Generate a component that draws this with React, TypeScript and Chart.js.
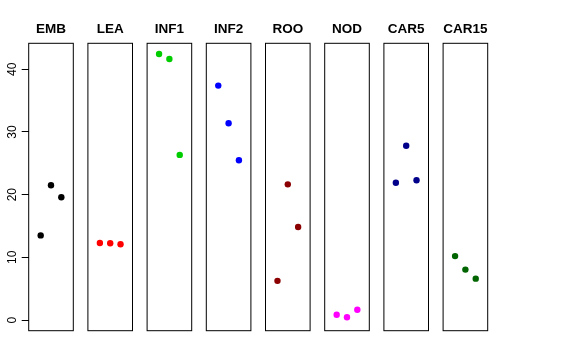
import React, { useEffect, useRef } from "react";
import { Chart, registerables } from "chart.js";
Chart.register(...registerables);

const PANELS = ["EMB", "LEA", "INF1", "INF2", "ROO", "NOD", "CAR5", "CAR15"];
const EMB = [13.5, 21.5, 19.6];
const LEA = [12.3, 12.25, 12.1];
const INF1 = [42.45, 41.65, 26.35];
const INF2 = [37.4, 31.4, 25.5];
const ROO = [6.25, 21.65, 14.85];
const NOD = [0.85, 0.45, 1.65];
const CAR5 = [21.9, 27.8, 22.3];
const CAR15 = [10.2, 8.05, 6.6];
const SERIES = [EMB, LEA, INF1, INF2, ROO, NOD, CAR5, CAR15];
const COLORS = ["#000000", "#FF0000", "#00CD00", "#0000FF", "#8B0000", "#FF00FF", "#00008B", "#006400"];
const Y_TICKS = [0, 10, 20, 30, 40];

// layout (pixels)
const PANEL_LEFT0 = 28.7;
const PANEL_STEP = 59.2;
const PANEL_W = 44.6;
const PANEL_TOP = 43.3;
const PANEL_BOTTOM = 330.7;
const CANVAS_H = 332;
const Y_MIN = -1.7;
const Y_MAX = 44.15;
const X_MIN = -0.16;
const X_MAX = 4.16;
const FONT = "'Liberation Sans', Arial, Helvetica, sans-serif";

const boxPlugin = {
  id: "panelBox",
  beforeDatasetsDraw(chart: any) {
    const { ctx, chartArea } = chart;
    ctx.save();
    ctx.strokeStyle = "#000";
    ctx.lineWidth = 1;
    ctx.strokeRect(chartArea.left, chartArea.top, chartArea.right - chartArea.left, chartArea.bottom - chartArea.top);
    ctx.restore();
  },
};

function Panel({ idx }: { idx: number }) {
  const ref = useRef<HTMLCanvasElement>(null);
  const panelLeft = PANEL_LEFT0 + idx * PANEL_STEP;
  const canvasLeft = idx === 0 ? 0 : Math.floor(panelLeft - 8);
  const canvasRight = Math.ceil(panelLeft + PANEL_W + 8);
  const canvasW = canvasRight - canvasLeft;
  const padLeft = idx === 0 ? 0 : panelLeft - canvasLeft;
  const padRight = canvasRight - (panelLeft + PANEL_W);

  useEffect(() => {
    const vals = SERIES[idx];
    const yScale: any = {
      type: "linear",
      display: idx === 0,
      min: Y_MIN,
      max: Y_MAX,
      afterBuildTicks: (s: any) => {
        s.ticks = Y_TICKS.map((v) => ({ value: v }));
      },
      grid: { display: true, drawOnChartArea: false, drawTicks: true, tickLength: 7, color: "#000", lineWidth: 1 },
      border: { display: false },
      ticks: {
        color: "#000",
        font: { family: FONT, size: 12 },
        minRotation: 90,
        maxRotation: 90,
        crossAlign: "center",
        padding: 2,
      },
    };
    if (idx === 0) {
      yScale.afterFit = (s: any) => {
        s.width = PANEL_LEFT0;
        s.paddingTop = 0;
        s.paddingBottom = 0;
      };
    }
    const chart = new Chart(ref.current as HTMLCanvasElement, {
      type: "scatter",
      data: {
        datasets: [
          {
            data: vals.map((v, i) => ({ x: i + 1, y: v })),
            backgroundColor: COLORS[idx],
            borderColor: COLORS[idx],
            pointRadius: 3.2,
            pointBorderWidth: 0,
            showLine: false,
            clip: false as any,
          },
        ],
      },
      options: {
        responsive: false,
        animation: false,
        events: [],
        layout: {
          autoPadding: false,
          padding: { left: padLeft, right: padRight, top: 0, bottom: CANVAS_H - PANEL_BOTTOM },
        },
        plugins: {
          legend: { display: false },
          tooltip: { enabled: false },
          title: {
            display: true,
            text: PANELS[idx],
            fullSize: false,
            color: "#000",
            font: { family: FONT, size: 13.5, weight: "bold", lineHeight: 1.2 },
            padding: { top: 21.6, bottom: PANEL_TOP - 21.6 - 16.2 },
          },
        },
        scales: {
          x: { type: "linear", display: false, min: X_MIN, max: X_MAX },
          y: yScale,
        },
      },
      plugins: [boxPlugin],
    } as any);
    return () => chart.destroy();
  }, [idx]);

  return (
    <canvas
      ref={ref}
      width={canvasW}
      height={CANVAS_H}
      style={{ position: "absolute", left: canvasLeft, top: 0, width: canvasW, height: CANVAS_H }}
    />
  );
}

export default function App() {
  return (
    <div style={{ position: "absolute", left: 0, top: 0, width: 576, height: 360, background: "#fff", overflow: "hidden" }}>
      {PANELS.map((_, i) => (
        <Panel key={i} idx={i} />
      ))}
    </div>
  );
}
